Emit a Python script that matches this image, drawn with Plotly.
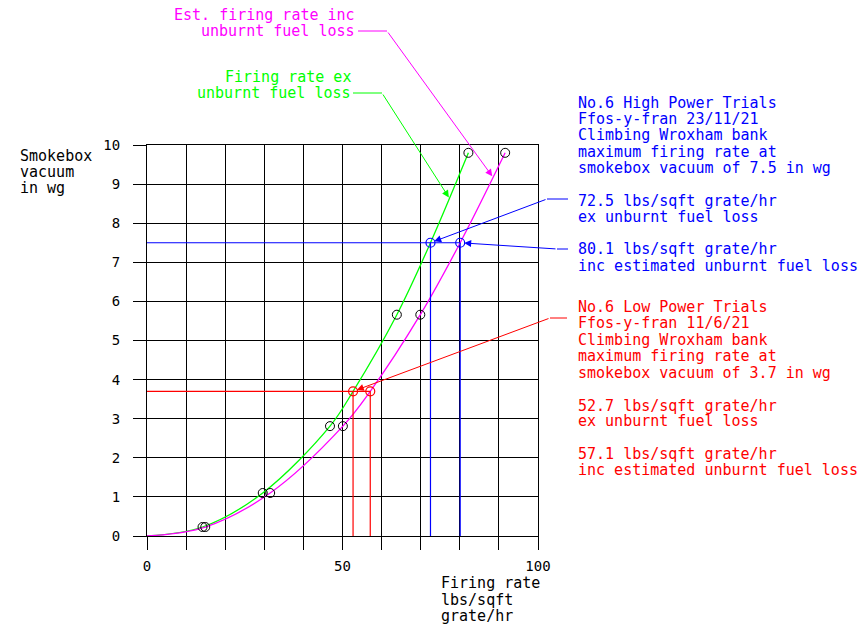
import plotly.graph_objects as go

# ---------------- data ----------------
vacuum = [0.0, 0.23, 1.1, 2.81, 5.66, 9.8]          # smokebox vacuum, in wg
rate_ex = [0.0, 14.2, 29.6, 46.8, 63.9, 82.2]        # firing rate ex unburnt fuel loss
rate_inc = [0.0, 14.9, 31.5, 50.1, 69.9, 91.6]       # est. firing rate inc unburnt fuel loss

low_vac = 3.7
low_ex, low_inc = 52.7, 57.1
high_vac = 7.5
high_ex, high_inc = 72.5, 80.1

# pointer positions for curve labels
ex_label_pt = (77.2, 8.66)
inc_label_pt = (88.3, 9.2)

x_ticks = list(range(0, 101, 10))
x_ticktext = ["0", "", "", "", "", "50", "", "", "", "", "100"]
y_ticks = list(range(0, 11))

# ---------------- geometry helpers ----------------
W_FIG, H_FIG = 866, 624
L, T, W, H = 147, 145, 391, 391
B = T + H

def dx(p):  # pixel -> data x
    return (p - L) / W * 100.0

def dy(p):  # pixel -> data y
    return (B - p) / H * 10.0

def px_(p):
    return (p - L) / W

def py_(p):
    return (B - p) / H

FONT = "DejaVu Sans Mono"
GREEN = "#00ff00"
MAG = "#ff00ff"
BLUE = "#0000ff"
RED = "#ff0000"

fig = go.Figure()

# curves (spline through measured points and read-off points)
def merged(xs, ys, extra):
    pts = sorted(list(zip(xs, ys)) + extra)
    return [p[0] for p in pts], [p[1] for p in pts]

gx, gy = merged(rate_ex, vacuum, [(low_ex, low_vac), (high_ex, high_vac)])
mx, my = merged(rate_inc, vacuum, [(low_inc, low_vac), (high_inc, high_vac)])

fig.add_trace(go.Scatter(x=gx, y=gy, mode="lines",
                         line=dict(color=GREEN, width=1.3, shape="spline", smoothing=1.0),
                         hoverinfo="skip"))
fig.add_trace(go.Scatter(x=mx, y=my, mode="lines",
                         line=dict(color=MAG, width=1.3, shape="spline", smoothing=1.0),
                         hoverinfo="skip"))

# reference lines
fig.add_trace(go.Scatter(x=[0, low_inc, None, low_ex, low_ex, None, low_inc, low_inc],
                         y=[low_vac, low_vac, None, low_vac, 0, None, low_vac, 0],
                         mode="lines", line=dict(color=RED, width=1.2), hoverinfo="skip"))
fig.add_trace(go.Scatter(x=[0, high_inc, None, high_ex, high_ex, None, high_inc, high_inc],
                         y=[high_vac, high_vac, None, high_vac, 0, None, high_vac, 0],
                         mode="lines", line=dict(color=BLUE, width=1.2), hoverinfo="skip"))

# measured points
fig.add_trace(go.Scatter(x=rate_ex[1:] + rate_inc[1:], y=vacuum[1:] + vacuum[1:],
                         mode="markers", cliponaxis=False,
                         marker=dict(symbol="circle-open", size=9, color="black",
                                     line=dict(width=1, color="black")),
                         hoverinfo="skip"))
fig.add_trace(go.Scatter(x=[low_ex, low_inc], y=[low_vac, low_vac], mode="markers",
                         marker=dict(symbol="circle-open", size=9, color=RED,
                                     line=dict(width=1.2, color=RED)), hoverinfo="skip"))
fig.add_trace(go.Scatter(x=[high_ex, high_inc], y=[high_vac, high_vac], mode="markers",
                         marker=dict(symbol="circle-open", size=9, color=BLUE,
                                     line=dict(width=1.2, color=BLUE)), hoverinfo="skip"))

annotations = []
shapes = []

def text(lines, x_px, y_list, color, anchor="left", size=15):
    for s, yv in zip(lines, y_list):
        annotations.append(dict(text=s, x=px_(x_px), y=py_(yv), xref="paper", yref="paper",
                                xanchor=anchor, yanchor="middle", showarrow=False,
                                font=dict(family=FONT, size=size, color=color)))

def hseg(x0, x1, yv, color):
    shapes.append(dict(type="line", xref="paper", yref="paper",
                       x0=px_(x0), x1=px_(x1), y0=py_(yv), y1=py_(yv),
                       line=dict(color=color, width=1)))

def arrow(tip, tail_px, color, standoff=0):
    annotations.append(dict(x=tip[0], y=tip[1], xref="x", yref="y",
                            ax=dx(tail_px[0]), ay=dy(tail_px[1]), axref="x", ayref="y",
                            text="", showarrow=True, arrowhead=2, arrowsize=1.4,
                            arrowwidth=1, arrowcolor=color, standoff=standoff))

# curve labels
text(["Est. firing rate inc", "unburnt fuel loss"], 357, [15, 31], MAG, anchor="right")
hseg(358, 387, 31, MAG)
arrow(inc_label_pt, (387, 31), MAG)

text(["Firing rate ex", "unburnt fuel loss"], 353, [77, 93], GREEN, anchor="right")
hseg(353, 382, 93, GREEN)
arrow(ex_label_pt, (382, 93), GREEN)

# high power block
text(["No.6 High Power Trials", "Ffos-y-fran 23/11/21", "Climbing Wroxham bank",
      "maximum firing rate at", f"smokebox vacuum of {high_vac} in wg"],
     576, [103, 119, 135, 152, 168], BLUE)
text([f"{high_ex} lbs/sqft grate/hr", "ex unburnt fuel loss"], 576, [201, 217], BLUE)
text([f"{high_inc} lbs/sqft grate/hr", "inc estimated unburnt fuel loss"], 576, [249, 266], BLUE)
hseg(547, 568, 199, BLUE)
arrow((high_ex, high_vac), (547, 199), BLUE, standoff=4)
hseg(557, 568, 249, BLUE)
arrow((high_inc, high_vac), (557, 249), BLUE, standoff=4)

# low power block
text(["No.6 Low Power Trials", "Ffos-y-fran 11/6/21", "Climbing Wroxham bank",
      "maximum firing rate at", f"smokebox vacuum of {low_vac} in wg"],
     576, [307, 323, 340, 356, 373], RED)
text([f"{low_ex} lbs/sqft grate/hr", "ex unburnt fuel loss"], 576, [406, 421], RED)
text([f"{low_inc} lbs/sqft grate/hr", "inc estimated unburnt fuel loss"], 576, [454, 470], RED)
hseg(550, 567, 318, RED)
arrow((low_ex, low_vac), (550, 318), RED, standoff=4)

# axis titles
text(["Smokebox", "vacuum", "in wg"], 18, [156, 172, 188], "black")
text(["Firing rate", "lbs/sqft", "grate/hr"], 439, [583, 600, 616], "black")

axis_common = dict(showgrid=True, gridcolor="black", gridwidth=1, zeroline=False,
                   showline=True, linecolor="black", linewidth=1, mirror=True,
                   ticks="outside", ticklen=13, tickcolor="black", tickwidth=1,
                   tickfont=dict(family=FONT, size=14, color="black"), fixedrange=True)

fig.update_layout(
    width=W_FIG, height=H_FIG, autosize=False,
    margin=dict(l=L, r=W_FIG - L - W, t=T, b=H_FIG - B),
    paper_bgcolor="white", plot_bgcolor="white",
    showlegend=False,
    xaxis=dict(range=[0, 100], tickvals=x_ticks, ticktext=x_ticktext,
               ticklabelstandoff=4, **axis_common),
    yaxis=dict(range=[0, 10], tickvals=y_ticks, ticklabelstandoff=10, **axis_common),
    annotations=annotations,
    shapes=shapes,
)

fig.write_html("out.html", config={"displayModeBar": False},
               post_script="document.body.style.margin='0';document.body.style.padding='0';"
                           "document.body.style.overflow='hidden';")
